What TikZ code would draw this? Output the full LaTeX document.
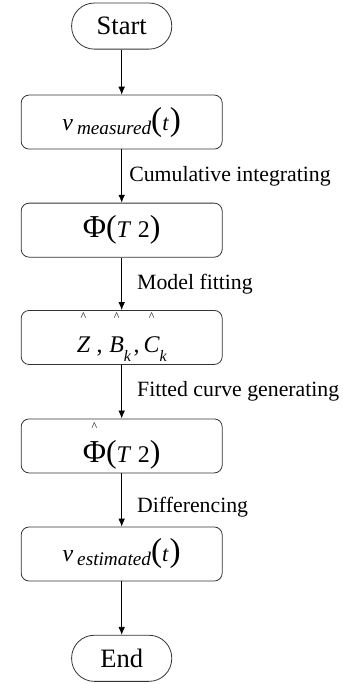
\documentclass[tikz,border=0pt]{standalone}
\usepackage{fontspec}
\setmainfont{Liberation Serif}
\usetikzlibrary{arrows.meta}

% small caret put high over a symbol
\newcommand{\hatover}[1]{{\setbox0\hbox{#1}\rlap{\hbox to\wd0{\hss\raisebox{24pt}{\fontsize{9}{9}\selectfont\upshape\textasciicircum}\hss}}\box0}}
\newcommand{\lowsub}[2]{\raisebox{#1}{\fontsize{14.5}{14.5}\selectfont\itshape #2}}
\newcommand{\bigpar}[1]{{\fontsize{25}{25}\selectfont #1}}
\newcommand{\subk}{\raisebox{-7pt}{\fontsize{12}{12}\selectfont\itshape k}}

\begin{document}
\begin{tikzpicture}[
    terminal/.style={draw=black!80, line width=0.6pt, rectangle, rounded corners=0.6cm, minimum width=2.65cm, minimum height=1.22cm, inner sep=0pt, font=\fontsize{20}{20}\selectfont},
    process/.style={draw=black!80, line width=0.6pt, rectangle, rounded corners=0.21cm, minimum width=5.32cm, minimum height=1.43cm, inner sep=0pt},
    flow/.style={-{Latex[length=6pt, width=5pt]}, line width=0.6pt},
    steplabel/.style={font=\fontsize{16.4}{16.4}\selectfont, midway, right, inner sep=0pt}
]
\useasboundingbox (0,0) rectangle (9.05,-18.10);

% --- Nodes ---
\node[terminal] (start) at (3.22, -0.69) {Start};
\node[process]  (meas)  at (3.22, -3.23) {{\fontsize{18}{18}\selectfont\itshape v}\hspace{3pt}\lowsub{-0.3em}{measured}\bigpar{(}{\fontsize{17}{17}\selectfont\itshape t}\hspace{1pt}\bigpar{)}};
\node[process]  (phi)   at (3.22, -6.09) {{\fontsize{24}{24}\selectfont Φ(}{\fontsize{18}{18}\selectfont\itshape T\hspace{6pt}\upshape 2}{\fontsize{24}{24}\selectfont)}};
\node[process]  (param) at (3.22, -8.93) {\fontsize{18}{18}\selectfont\hatover{\itshape Z}\hspace{5pt},\hspace{5pt}\hatover{\itshape B}\subk\hspace{2pt},\hspace{3pt}\hatover{\itshape C}\subk};
\node[process]  (fit)   at (3.22, -11.80) {{\fontsize{24}{24}\selectfont\hatover{Φ}(}{\fontsize{18}{18}\selectfont\itshape T\hspace{6pt}\upshape 2}{\fontsize{24}{24}\selectfont)}};
\node[process]  (est)   at (3.22, -14.66) {{\fontsize{18}{18}\selectfont\itshape v}\hspace{3pt}\lowsub{-0.3em}{estimated}\bigpar{(}{\fontsize{17}{17}\selectfont\itshape t}\hspace{1pt}\bigpar{)}};
\node[terminal] (end)   at (3.22, -17.42) {End};

% --- Connectors ---
\draw[flow] (start) -- (meas);
\draw[flow] (meas) -- node[steplabel, xshift=0.19cm] {Cumulative integrating} (phi);
\draw[flow] (phi) -- node[steplabel, xshift=0.4cm] {Model fitting} (param);
\draw[flow] (param) -- node[steplabel, xshift=0.4cm] {Fitted curve generating} (fit);
\draw[flow] (fit) -- node[steplabel, xshift=0.4cm, yshift=-0.2cm] {Differencing} (est);
\draw[flow] (est) -- (end);

\end{tikzpicture}
\end{document}
